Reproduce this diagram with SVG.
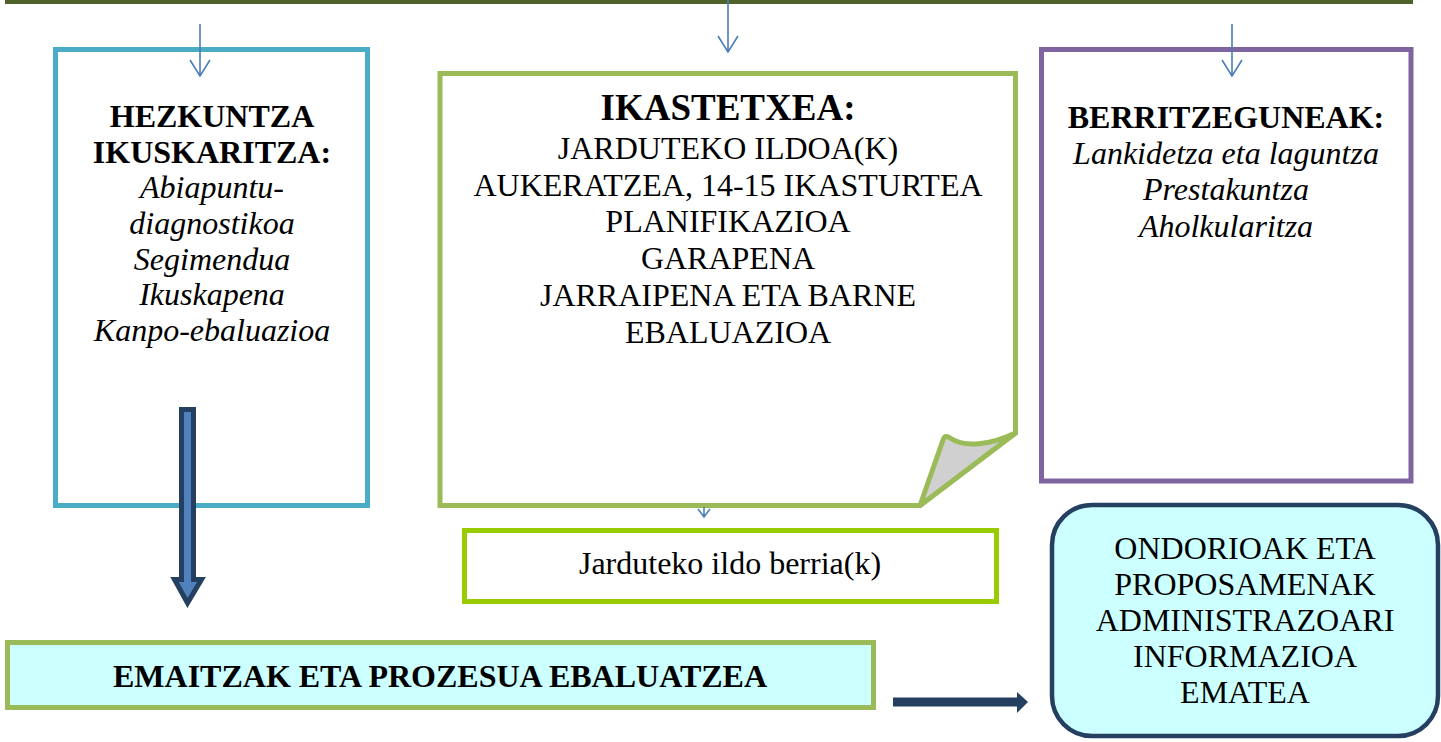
<svg xmlns="http://www.w3.org/2000/svg" width="1441" height="742" viewBox="0 0 1441 742">
<style>
text{font-family:"Liberation Serif","Times New Roman",serif;fill:#000;text-anchor:middle}
.b{font-weight:bold;font-size:32px}
.i{font-style:italic;font-size:32px}
.r{font-size:32px}
.thin{stroke:#4A7EBB;stroke-width:1.6;fill:none}
</style>
<rect x="5" y="0" width="1408" height="4" fill="#4F6228"/>
<g id="hezkuntza">
<rect x="55.5" y="49.5" width="312" height="456" fill="#fff" stroke="#4BACC6" stroke-width="5"/>
<text class="b" x="212" y="127">HEZKUNTZA</text>
<text class="b" x="212" y="163">IKUSKARITZA:</text>
<text class="i" x="212" y="198">Abiapuntu-</text>
<text class="i" x="212" y="234">diagnostikoa</text>
<text class="i" x="212" y="270">Segimendua</text>
<text class="i" x="212" y="305">Ikuskapena</text>
<text class="i" x="212" y="341">Kanpo-ebaluazioa</text>
</g>
<g id="ikastetxea">
<path d="M440,73.5 H1015.5 V433 L920,505.5 H440 Z" fill="#fff" stroke="#9BBB59" stroke-width="5" stroke-linejoin="miter"/>
<path d="M920,505.5 L943,440 Q945,434 950,438 C965,448 990,445 1015.5,433 Z" fill="#D0D0D0" stroke="#9BBB59" stroke-width="5" stroke-linejoin="round"/>
<text class="b" style="font-size:37px" x="728" y="120">IKASTETXEA:</text>
<text class="r" x="728" y="159">JARDUTEKO ILDOA(K)</text>
<text class="r" x="728" y="196">AUKERATZEA, 14-15 IKASTURTEA</text>
<text class="r" x="728" y="232">PLANIFIKAZIOA</text>
<text class="r" x="728" y="269">GARAPENA</text>
<text class="r" x="728" y="306">JARRAIPENA ETA BARNE</text>
<text class="r" x="728" y="343">EBALUAZIOA</text>
</g>
<g id="berritzeguneak">
<rect x="1041.5" y="49.5" width="369.5" height="431.5" fill="#fff" stroke="#8064A2" stroke-width="5"/>
<text class="b" x="1226" y="128">BERRITZEGUNEAK:</text>
<text class="i" x="1226" y="164">Lankidetza eta laguntza</text>
<text class="i" x="1226" y="200">Prestakuntza</text>
<text class="i" x="1226" y="237">Aholkularitza</text>
</g>
<g id="ildoberria">
<rect x="464.5" y="530.5" width="532" height="71" fill="#fff" stroke="#99CC00" stroke-width="5"/>
<text class="r" x="730" y="574">Jarduteko ildo berria(k)</text>
</g>
<g id="emaitzak">
<rect x="7.5" y="642.5" width="866" height="65" fill="#CCFFFF" stroke="#9BBB59" stroke-width="5"/>
<text class="b" x="440" y="687">EMAITZAK ETA PROZESUA EBALUATZEA</text>
</g>
<g id="ondorioak">
<rect x="1052" y="505" width="386" height="231" rx="40" ry="40" fill="#CCFFFF" stroke="#243F60" stroke-width="4.5"/>
<text class="r" x="1245" y="559">ONDORIOAK ETA</text>
<text class="r" x="1245" y="595">PROPOSAMENAK</text>
<text class="r" x="1245" y="631">ADMINISTRAZOARI</text>
<text class="r" x="1245" y="667">INFORMAZIOA</text>
<text class="r" x="1245" y="703">EMATEA</text>
</g>
<g id="connectors">
<path class="thin" d="M200,24 V76 M190,60 L200,76 L210,60"/>
<path class="thin" d="M728,0 V52 M718,36 L728,52 L738,36"/>
<path class="thin" d="M1232,24 V76 M1222,60 L1232,76 L1242,60"/>
<path class="thin" d="M704,507 V517 M698,509 L704,517 L710,509"/>
<polygon points="181.5,409.5 193.5,409.5 193.5,579.5 201.5,579.5 187.5,603 174.5,579.5 181.5,579.5" fill="#4F81BD" stroke="#243F60" stroke-width="5"/>
<rect x="893" y="697.5" width="125" height="9" fill="#243F60"/>
<polygon points="1017,692 1028,702 1017,713" fill="#243F60"/>
</g>
</svg>
